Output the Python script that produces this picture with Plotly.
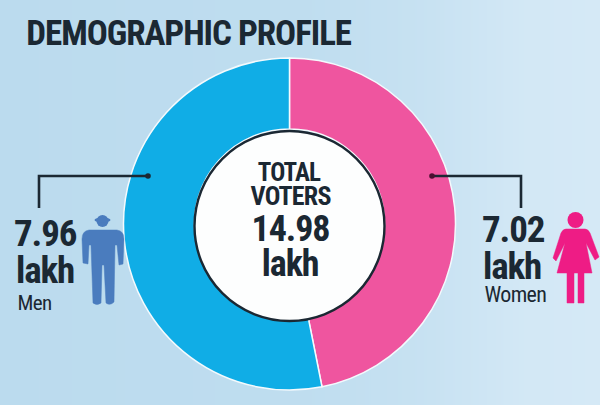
import plotly.graph_objects as go

# Voter counts, in lakh
categories = ["Women", "Men"]
voters = [7.02, 7.96]
slice_colors = ["#EF559F", "#10ADE6"]
total_label = "14.98"

W, H = 600, 405
CX, CY, R_OUT, R_IN = 289.5, 224, 166, 95
FONT = "Roboto"
INK = "#1B2833"

# Soft left-to-right wash behind the chart
bg_x = [0, 300, 420, 520, 600]
bg_shade = [0.0, 0.15, 0.45, 0.9, 1.0]
bg_scale = [[0, "#BBDBEE"], [1, "#D5E9F6"]]

fig = go.Figure()
fig.add_trace(go.Heatmap(
    x=bg_x, y=[0, H], z=[bg_shade, bg_shade],
    colorscale=bg_scale, zmin=0, zmax=1, zsmooth="best",
    showscale=False, hoverinfo="skip",
))
fig.add_trace(go.Pie(
    labels=categories, values=voters, sort=False, direction="clockwise", rotation=0,
    hole=R_IN / R_OUT, textinfo="none", showlegend=False,
    marker=dict(colors=slice_colors, line=dict(color="#F4FAFD", width=1.5)),
    domain=dict(x=[(CX - R_OUT) / W, (CX + R_OUT) / W],
                y=[1 - (CY + R_OUT) / H, 1 - (CY - R_OUT) / H]),
))


def stroke(path, width=2.6):
    return dict(type="path", path=path, line=dict(color=INK, width=width), layer="above")


def solid(path, color):
    return dict(type="path", path=path, fillcolor=color, line=dict(color=color, width=0.5), layer="above")


def disc(x, y, rx, ry, color):
    return dict(type="circle", x0=x - rx, x1=x + rx, y0=y - ry, y1=y + ry,
                fillcolor=color, line=dict(color=color, width=0), layer="above")


MAN = "#4A7CBE"
WOMAN = "#EE1C85"
shapes = [
    # Centre disc
    dict(type="circle", x0=CX - R_IN, x1=CX + R_IN, y0=CY - R_IN + 2, y1=CY + R_IN + 2,
         fillcolor="#FDFEFE", line=dict(color=INK, width=2.4), layer="above"),
    # Leader lines
    stroke("M 148 176 L 39 176 L 39 208"),
    stroke("M 432 176 L 521 176 L 521 208"),
    disc(148, 176, 2.8, 2.8, INK),
    disc(432, 176, 2.8, 2.8, "#4A1030"),
    # Man
    disc(102.5, 221, 6, 6, MAN),
    disc(102.5, 220, 8, 2.5, MAN),
    solid("M 89 230 L 117 230 Q 124 231 124 239 L 123 264 L 119 265 L 117 245 L 115 245 "
          "L 114 302 Q 110 306 106 303 L 104 265 L 102 265 L 101 303 Q 97 306 93 303 "
          "L 91 245 L 89 245 L 88 264 L 83 263 L 82 239 Q 82 231 89 230 Z", MAN),
    # Woman
    disc(575.5, 220, 8, 8, WOMAN),
    solid("M 566 229 L 585 229 Q 588 229 590 233 L 599 257 L 595 260 L 586 243 L 592 273 "
          "L 584 273 L 584 303 L 578 303 L 578 273 L 574 273 L 574 303 L 567 303 L 567 273 "
          "L 557 273 L 565 243 L 556 261 L 553 258 L 561 233 Q 563 229 566 229 Z", WOMAN),
]

# text, centre x, centre y, size, bold
texts = [
    ("DEMOGRAPHIC PROFILE", 188.5, 33, 35, True),
    ("TOTAL", 289, 172, 25, True),
    ("VOTERS", 290, 196, 26, True),
    (total_label, 290, 229, 36, True),
    ("lakh", 290, 264, 36, True),
    (f"{voters[1]:.2f}", 44.5, 233, 37, True),
    ("lakh", 44.5, 270, 37, True),
    ("Men", 34, 303, 21, False),
    (f"{voters[0]:.2f}", 512.5, 229, 37, True),
    ("lakh", 512, 266, 37, True),
    ("Women", 515, 294, 22, False),
]
annotations = [
    dict(text=f"<b>{t}</b>" if bold else t, x=x, y=y, xref="x", yref="y",
         xanchor="center", yanchor="middle", showarrow=False,
         font=dict(family=FONT, size=size, color=INK))
    for t, x, y, size, bold in texts
]

fig.update_layout(
    width=W, height=H, autosize=False, margin=dict(l=0, r=0, t=0, b=0),
    paper_bgcolor="#C5E1F1", plot_bgcolor="#C5E1F1",
    xaxis=dict(range=[0, W], visible=False, fixedrange=True),
    yaxis=dict(range=[H, 0], visible=False, fixedrange=True),
    shapes=shapes, annotations=annotations,
)

# Condensed face with tight tracking for all labels
condense = """
var s = document.createElement('style');
s.textContent = 'svg text { font-stretch: 75% !important; letter-spacing: -0.03em; }';
document.head.appendChild(s);
"""
fig.write_html("out.html", post_script=condense)
